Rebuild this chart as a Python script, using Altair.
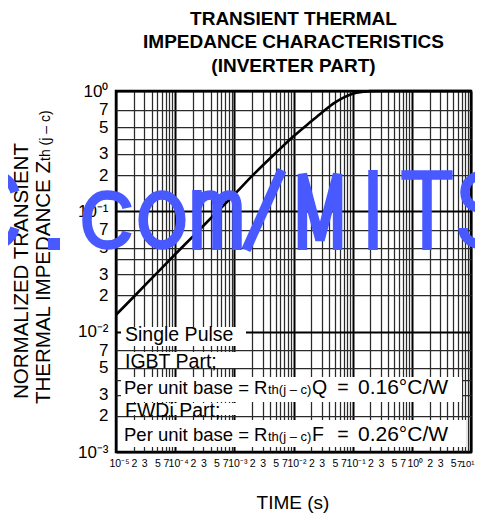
import altair as alt
import pandas as pd

# ---------------- data ----------------
time_s = [1e-5, 2e-5, 5e-5, 1e-4, 2e-4, 5e-4, 1e-3, 2e-3, 5e-3, 1e-2,
          2e-2, 3e-2, 5e-2, 7e-2, 1e-1, 1.5e-1, 2e-1, 3e-1, 1e0, 1e1]
zth = [0.0138, 0.0195, 0.031, 0.044, 0.062, 0.098, 0.138, 0.197, 0.305, 0.42,
       0.56, 0.66, 0.80, 0.88, 0.95, 0.985, 0.998, 1.0, 1.0, 1.0]

x_decades = [1e-5, 1e-4, 1e-3, 1e-2, 1e-1, 1e0]
x_decade_labels = ["10⁻⁵", "10⁻⁴", "10⁻³", "10⁻²", "10⁻¹", "10⁰"]
x_mults = [1, 2, 3, 4, 5, 6, 7, 8, 9]
x_mult_labels = {2: "2", 3: "3", 5: "5", 7: "7"}
x_last, x_last_label = 1e1, "10¹"

y_decades = [1e-3, 1e-2, 1e-1]
y_decade_labels = ["10⁻³", "10⁻²", "10⁻¹"]
y_mults = [1, 2, 3, 4, 5, 7]
y_mult_labels = {2: "2", 3: "3", 5: "5", 7: "7"}
y_last, y_last_label = 1e0, "10⁰"

title_lines = ["TRANSIENT THERMAL", "IMPEDANCE CHARACTERISTICS", "(INVERTER PART)"]
y_title_1 = "NORMALIZED TRANSIENT"
y_title_2 = "THERMAL IMPEDANCE  Z"
y_title_sub = "th (j – c)"
x_title = "TIME  (s)"
legend_plain = ["Single Pulse", "IGBT Part;", "FWDi Part;"]
legend_q = ["Per unit base = R", "th(j – c)", "Q", "=", "0.16°C/W"]
legend_f = ["Per unit base = R", "th(j – c)", "F", "=", "0.26°C/W"]
watermark_text = "C.com/MITS"   # scanned-in overlay text, drawn as narrow stroke glyphs

# ---------------- build tick lists / label expressions ----------------
x_vals, x_labs = [], []
for d, dl in zip(x_decades, x_decade_labels):
    for m in x_mults:
        x_vals.append(d * m)
        x_labs.append(dl if m == 1 else x_mult_labels.get(m, ""))
x_vals.append(x_last)
x_labs.append(x_last_label)

y_vals, y_labs = [], []
for d, dl in zip(y_decades, y_decade_labels):
    for m in y_mults:
        y_vals.append(d * m)
        y_labs.append(dl if m == 1 else y_mult_labels.get(m, ""))
y_vals.append(y_last)
y_labs.append(y_last_label)


def make_expr(vals, labels):
    expr = "''"
    for v, l in zip(reversed(vals), reversed(labels)):
        expr = f"(abs(datum.value - {v:.10g}) < {v * 1e-4:.10g} ? '{l}' : {expr})"
    return expr


dec_test = "abs(log(datum.value)/LN10 - round(log(datum.value)/LN10)) < 0.01"
FONT = "Liberation Sans, Arial, Helvetica, sans-serif"

grid_color = {"condition": {"test": dec_test, "value": "#000000"}, "value": "#2a2a2a"}
grid_width = {"condition": {"test": dec_test, "value": 2}, "value": 1.25}
x_label_offset = {"condition": {"test": dec_test, "value": 3}, "value": 0}
x_label_align = {"condition": {"test": "datum.value > 5", "value": "right"}, "value": "center"}
x_label_size = {"condition": {"test": "datum.value > 5", "value": 9.5}, "value": 10.5}

df = pd.DataFrame({"t": time_s, "z": zth})

line = alt.Chart(df).mark_line(color="black", strokeWidth=2.6, interpolate="monotone").encode(
    x=alt.X("t:Q", scale=alt.Scale(type="log", domain=[1e-5, 10], nice=False),
            axis=alt.Axis(values=x_vals, labelExpr=make_expr(x_vals, x_labs), grid=True,
                          ticks=False, domain=False, gridColor=grid_color, gridWidth=grid_width,
                          gridOpacity=1, labelFont=FONT, labelFontSize=x_label_size,
                          labelColor="#000", labelPadding=6, labelOverlap=False,
                          labelFlush=False, labelOffset=x_label_offset,
                          labelAlign=x_label_align, labelBound=False,
                          labelAngle=0, title=None)),
    y=alt.Y("z:Q", scale=alt.Scale(type="log", domain=[1e-3, 1], nice=False),
            axis=alt.Axis(values=y_vals, labelExpr=make_expr(y_vals, y_labs), grid=True,
                          ticks=False, domain=False, gridColor=grid_color, gridWidth=grid_width,
                          gridOpacity=1, labelFont=FONT, labelFontSize=17, labelColor="#000",
                          labelPadding=8, labelOverlap=False, labelFlush=False, labelBound=False,
                          title=None)),
)

dummy = pd.DataFrame({"d": [0]})


def txt(s, x, y, size, **kw):
    return alt.Chart(dummy).mark_text(text=s, fontSize=size, font=FONT, color="black", **kw).encode(
        x=alt.value(x), y=alt.value(y))


def box(x0, x1, y0, y1):
    return alt.Chart(dummy).mark_rect(color="white").encode(
        x=alt.value(x0), x2=alt.value(x1), y=alt.value(y0), y2=alt.value(y1))


layers = [line]
# white boxes behind legend text (plot pixel coords)
layers += [box(5, 130, 236, 255), box(5, 128, 261, 277), box(5, 346, 286, 311),
           box(5, 132, 312, 324), box(5, 350, 329, 356)]

# legend text
LS = 19.5
layers.append(txt(legend_plain[0], 9, 250, LS, align="left", baseline="alphabetic"))
layers.append(txt(legend_plain[1], 9, 277, LS, align="left", baseline="alphabetic"))
layers.append(txt(legend_plain[2], 9, 326, LS, align="left", baseline="alphabetic"))
for parts, yb in [(legend_q, 303), (legend_f, 350)]:
    layers.append(txt(parts[0], 8, yb, 18.5, align="left", baseline="alphabetic"))
    layers.append(txt(parts[1], 152, yb, 13, align="left", baseline="alphabetic"))
    layers.append(txt(parts[2], 196, yb, 19.5, align="left", baseline="alphabetic"))
    layers.append(txt(parts[3], 227, yb, 19.5, align="center", baseline="alphabetic"))
    layers.append(txt(parts[4], 242, yb, 21, align="left", baseline="alphabetic"))

# titles
for i, s in enumerate(title_lines):
    layers.append(txt(s, 177.5, -66 + 23.3 * i, 19, fontWeight="bold", align="center",
                      baseline="alphabetic"))
layers.append(txt(x_title, 177, 418, 19, align="center", baseline="alphabetic"))
layers.append(txt(y_title_1, -88, 308, 20.5, angle=270, align="left", baseline="alphabetic"))
layers.append(txt(y_title_2, -66, 313, 20.5, angle=270, align="left", baseline="alphabetic"))
layers.append(txt(y_title_sub, -66, 70, 14, angle=270, align="left", baseline="alphabetic"))

# ---------------- watermark glyphs (narrow sans, unit = 40 px) ----------------
def ellipse(cx, cy, rx, ry):
    k = 0.5523
    return (f"M {cx - rx} {cy} C {cx - rx} {cy - k * ry} {cx - k * rx} {cy - ry} {cx} {cy - ry} "
            f"C {cx + k * rx} {cy - ry} {cx + rx} {cy - k * ry} {cx + rx} {cy} "
            f"C {cx + rx} {cy + k * ry} {cx + k * rx} {cy + ry} {cx} {cy + ry} "
            f"C {cx - k * rx} {cy + ry} {cx - rx} {cy + k * ry} {cx - rx} {cy} Z")


glyph_paths = {
    "C": ("M 0.55 -0.45 C 0.45 -0.75 0.25 -0.875 0 -0.875 C -0.4 -0.875 -0.6 -0.5 -0.6 0 "
          "C -0.6 0.5 -0.4 0.875 0 0.875 C 0.25 0.875 0.45 0.75 0.55 0.45"),
    "c": ("M 0.5 -0.05 C 0.45 -0.28 0.25 -0.375 0 -0.375 C -0.32 -0.375 -0.5 -0.1 -0.5 0.25 "
          "C -0.5 0.6 -0.32 0.875 0 0.875 C 0.25 0.875 0.45 0.75 0.5 0.55"),
    "o": ellipse(0, 0.25, 0.47, 0.625),
    "m": ("M -0.5 1 L -0.5 -0.5 M -0.5 -0.05 C -0.45 -0.3 -0.3 -0.375 -0.15 -0.375 "
          "C 0.0 -0.375 0 -0.2 0 0 L 0 1 M 0 -0.05 C 0.05 -0.3 0.2 -0.375 0.3 -0.375 "
          "C 0.45 -0.375 0.5 -0.25 0.5 -0.05 L 0.5 1"),
    "/": "M -0.45 1 L 0.45 -1",
    "M": "M -0.44 1 L -0.44 -0.9 L 0 0.75 L 0.44 -0.9 L 0.44 1",
    "I": "M 0 -1 L 0 1",
    "T": "M -0.64 -0.875 L 0.64 -0.875 M 0 -0.875 L 0 1",
    "S": ("M 0.5 -0.5 C 0.45 -0.8 0.2 -0.875 0 -0.875 C -0.3 -0.875 -0.5 -0.7 -0.5 -0.45 "
          "C -0.5 -0.1 -0.2 -0.05 0 0 C 0.3 0.07 0.55 0.15 0.55 0.45 C 0.55 0.72 0.3 0.875 0 0.875 "
          "C -0.3 0.875 -0.55 0.72 -0.55 0.45"),
    ".": "M -0.15 0.7 L 0.15 0.7 L 0.15 1 L -0.15 1 Z",
}
wm_x = [-123, -62, -9, 46, 101, 148, 204, 257, 311, 369]   # plot px (glyph centres)
WM_Y = 119
WM_BLUE = "#4759ff"
for ch, xx in zip(watermark_text, wm_x):
    filled = ch == "."
    layers.append(alt.Chart(dummy).mark_point(
        shape=glyph_paths[ch], filled=filled, opacity=1, color=WM_BLUE,
        strokeWidth=0 if filled else 9.5, strokeJoin="bevel", strokeCap="butt").encode(
        x=alt.value(xx), y=alt.value(WM_Y), size=alt.value(6400)))

chart = alt.layer(*layers).properties(
    width=355, height=361,
    autosize=alt.AutoSizeParams(type="none"),
    padding={"left": 108, "top": 83, "right": 4, "bottom": 62},
).configure_view(stroke="black", strokeWidth=2.5)

chart.save("out.html", embed_options={"renderer": "svg", "actions": False})
